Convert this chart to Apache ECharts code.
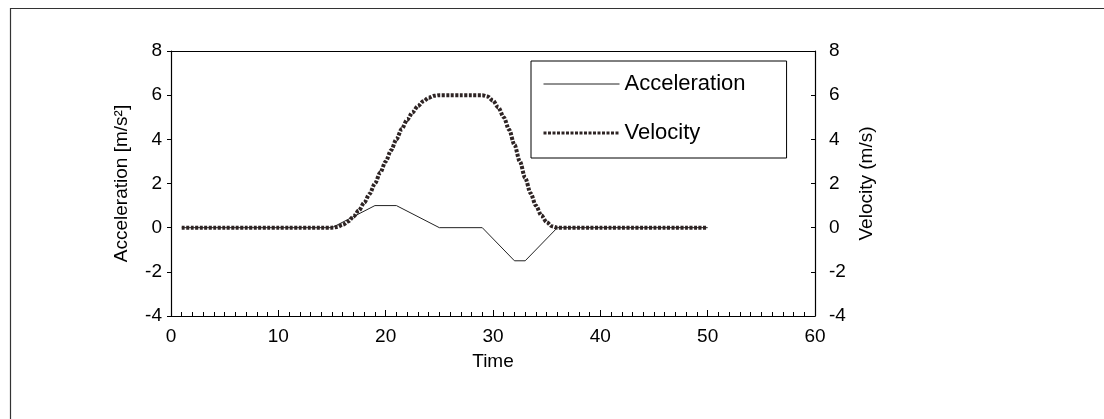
<!DOCTYPE html>
<html>
<head>
<meta charset="utf-8">
<script src="https://cdn.jsdelivr.net/npm/echarts@6/dist/echarts.min.js"></script>
<style>
html,body{margin:0;padding:0;background:#fff;}
#chart{width:1104px;height:419px;}
</style>
</head>
<body>
<div id="chart"></div>
<script>
// Acceleration (piecewise linear corners)
var accTime = [1, 15, 19, 21, 25, 29, 32, 33, 36, 50];
var accValues = [0, 0, 1, 1, 0, 0, -1.5, -1.5, 0, 0];

// Velocity
var velTime = [1, 2, 3, 4, 5, 6, 7, 8, 9, 10, 11, 12, 13, 14, 15, 15.5, 16, 16.5, 17, 17.5, 18, 18.5, 19, 19.5, 20, 20.5, 21, 21.5, 22, 22.5, 23, 23.5, 24, 24.5, 25, 26, 27, 28, 29, 29.5, 30, 30.5, 31, 31.5, 32, 32.5, 33, 33.5, 34, 34.5, 35, 35.5, 36, 37, 38, 39, 40, 41, 42, 43, 44, 45, 46, 47, 48, 49, 50];
var velValues = [0, 0, 0, 0, 0, 0, 0, 0, 0, 0, 0, 0, 0, 0, 0, 0.03, 0.13, 0.28, 0.5, 0.78, 1.13, 1.53, 2, 2.5, 3, 3.5, 4, 4.47, 4.88, 5.22, 5.5, 5.72, 5.88, 5.97, 6, 6, 6, 6, 6, 5.94, 5.75, 5.44, 5, 4.44, 3.75, 3.0, 2.25, 1.56, 1.0, 0.56, 0.25, 0.06, 0, 0, 0, 0, 0, 0, 0, 0, 0, 0, 0, 0, 0, 0, 0];

var yTicks = [-4, -2, 0, 2, 4, 6, 8];
var xTicks = [0, 10, 20, 30, 40, 50, 60];

function pairs(xs, ys) { return xs.map(function (x, i) { return [x, ys[i]]; }); }

var FONT = 'Liberation Sans, Arial, sans-serif';
var VEL_COLOR = '#2e2424';
var chart = echarts.init(document.getElementById('chart'), null, {renderer: 'canvas'});
chart.setOption({
  backgroundColor: '#fff',
  animation: false,
  textStyle: {fontFamily: FONT, color: '#000'},
  graphic: [{
    type: 'rect', left: 8, top: 6, silent: true,
    shape: {width: 1095, height: 430},
    style: {fill: 'none', stroke: '#333', lineWidth: 1.2}
  }],
  grid: {left: 171, right: 289, top: 51, bottom: 103, containLabel: false},
  legend: {
    left: 531, top: 61, orient: 'vertical',
    padding: [12, 41, 14, 11],
    itemGap: 27, itemWidth: 76, itemHeight: 14,
    borderColor: '#000', borderWidth: 1,
    itemStyle: {opacity: 0},
    textStyle: {fontSize: 22, color: '#000', fontFamily: FONT},
    data: [
      {name: 'Acceleration', lineStyle: {color: '#222', width: 1}},
      {name: 'Velocity', lineStyle: {color: VEL_COLOR, width: 3, type: [3, 1.5]}}
    ]
  },
  xAxis: [{
    type: 'value', position: 'bottom', min: xTicks[0], max: xTicks[xTicks.length - 1], interval: 10,
    name: 'Time', nameLocation: 'middle', nameGap: 36,
    nameTextStyle: {fontSize: 19, color: '#000'},
    axisLine: {onZero: false, lineStyle: {color: '#000', width: 1.2}},
    axisTick: {inside: true, length: 6, lineStyle: {color: '#000'}},
    minorTick: {show: true, splitNumber: 10, length: 4, lineStyle: {color: '#000'}},
    axisLabel: {fontSize: 19, color: '#000', margin: 11},
    splitLine: {show: false}
  }, {
    type: 'value', position: 'top', min: 0, max: 60, interval: 10,
    axisLine: {onZero: false, lineStyle: {color: '#000', width: 1.2}},
    axisTick: {show: false},
    axisLabel: {show: false},
    splitLine: {show: false}
  }],
  yAxis: [{
    type: 'value', position: 'left', min: yTicks[0], max: yTicks[yTicks.length - 1], interval: 2,
    name: 'Acceleration [m/s²]', nameLocation: 'middle', nameGap: 40, nameRotate: 90,
    nameTextStyle: {fontSize: 19, color: '#000'},
    axisLine: {show: true, onZero: false, lineStyle: {color: '#000', width: 1.2}},
    axisTick: {show: true, inside: false, length: 4, lineStyle: {color: '#000'}},
    axisLabel: {fontSize: 19, color: '#000', margin: 9},
    splitLine: {show: false}
  }, {
    type: 'value', position: 'right', min: yTicks[0], max: yTicks[yTicks.length - 1], interval: 2,
    name: 'Velocity (m/s)', nameLocation: 'middle', nameGap: 36, nameRotate: 90,
    nameTextStyle: {fontSize: 19, color: '#000'},
    axisLine: {show: true, onZero: false, lineStyle: {color: '#000', width: 1.2}},
    axisTick: {show: true, inside: true, length: 4, lineStyle: {color: '#000'}},
    axisLabel: {fontSize: 19, color: '#000', margin: 14},
    splitLine: {show: false}
  }],
  series: [{
    name: 'Acceleration', type: 'line', xAxisIndex: 0, yAxisIndex: 0,
    data: pairs(accTime, accValues), symbol: 'none',
    lineStyle: {color: '#222', width: 1},
    itemStyle: {color: '#222'}, z: 2
  }, {
    name: 'Velocity', type: 'line', xAxisIndex: 0, yAxisIndex: 1,
    data: pairs(velTime, velValues), symbol: 'none',
    smooth: 0.3, smoothMonotone: 'x',
    lineStyle: {color: VEL_COLOR, width: 4, type: [3, 1.5]},
    itemStyle: {color: VEL_COLOR}, z: 3
  }]
});
</script>
</body>
</html>
